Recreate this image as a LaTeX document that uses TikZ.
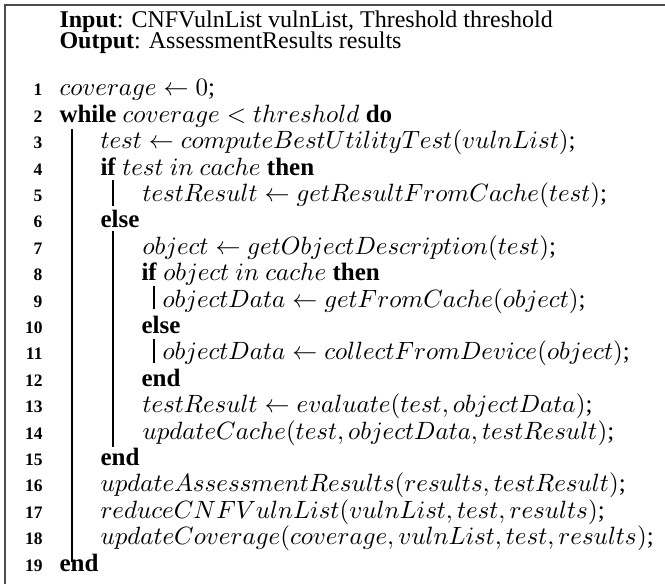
\documentclass[tikz,border=0pt]{standalone}
\usepackage{fontspec}
\setmainfont{Liberation Serif}
\begin{document}
\begin{tikzpicture}[x=0.4pt,y=-0.4pt,
    num/.style={anchor=base east,inner sep=0pt,
      font=\fontsize{7}{8}\selectfont\bfseries},
    stmt/.style={anchor=base west,inner sep=0pt,
      font=\fontsize{10}{12}\selectfont},
    head/.style={stmt,font=\fontsize{9.6}{11}\selectfont},
    bar/.style={line width=0.6pt},
    frame/.style={line width=0.7pt,draw=black!70}]
  \useasboundingbox (0,0) rectangle (665,584);
  \draw[frame] (5,584) -- (5,5) -- (665,5);
  % header
  \node[head] (in) at (59,28) {\textbf{Input}: CNFVulnList vulnList, Threshold threshold};
  \node[head] (out) at (59,49) {\textbf{Output}: AssessmentResults results};
  % line numbers
  \foreach \k in {1,...,19}
    \node[num] (n\k) at (43,{96+26.4*(\k-1)}) {\k};
  % statements
  \node[stmt] (l1) at (59,96) {$coverage \leftarrow 0$;};
  \node[stmt] (l2) at (59,122.4) {\textbf{while} $coverage < threshold$ \textbf{do}};
  \node[stmt] (l3) at (100,148.8) {$test \leftarrow computeBestUtilityTest(vulnList)$;};
  \node[stmt] (l4) at (100,175.2) {\textbf{if} $test\ in\ cache$ \textbf{then}};
  \node[stmt] (l5) at (142,201.6) {$testResult \leftarrow getResultFromCache(test)$;};
  \node[stmt] (l6) at (100,228) {\textbf{else}};
  \node[stmt] (l7) at (142,254.4) {$object \leftarrow getObjectDescription(test)$;};
  \node[stmt] (l8) at (141,280.8) {\textbf{if} $object\ in\ cache$ \textbf{then}};
  \node[stmt] (l9) at (162,307.2) {$objectData \leftarrow getFromCache(object)$;};
  \node[stmt] (l10) at (141,333.6) {\textbf{else}};
  \node[stmt] (l11) at (162,360) {$objectData \leftarrow collectFromDevice(object)$;};
  \node[stmt] (l12) at (141,386.4) {\textbf{end}};
  \node[stmt] (l13) at (142,412.8) {$testResult \leftarrow evaluate(test, objectData)$;};
  \node[stmt] (l14) at (142,439.2) {$updateCache(test, objectData, testResult)$;};
  \node[stmt] (l15) at (100,465.6) {\textbf{end}};
  \node[stmt] (l16) at (100,492) {$updateAssessmentResults(results, testResult)$;};
  \node[stmt] (l17) at (100,518.4) {$reduceCNFVulnList(vulnList, test, results)$;};
  \node[stmt] (l18) at (100,544.8) {$updateCoverage(coverage, vulnList, test, results)$;};
  \node[stmt] (l19) at (59,571.2) {\textbf{end}};
  % block bars
  \draw[bar] (72,129) -- (72,562);
  \draw[bar] (113,180) -- (113,206);
  \draw[bar] (113,231) -- (113,447);
  \draw[bar] (154,286) -- (154,309);
  \draw[bar] (154,339) -- (154,363);
\end{tikzpicture}
\end{document}
